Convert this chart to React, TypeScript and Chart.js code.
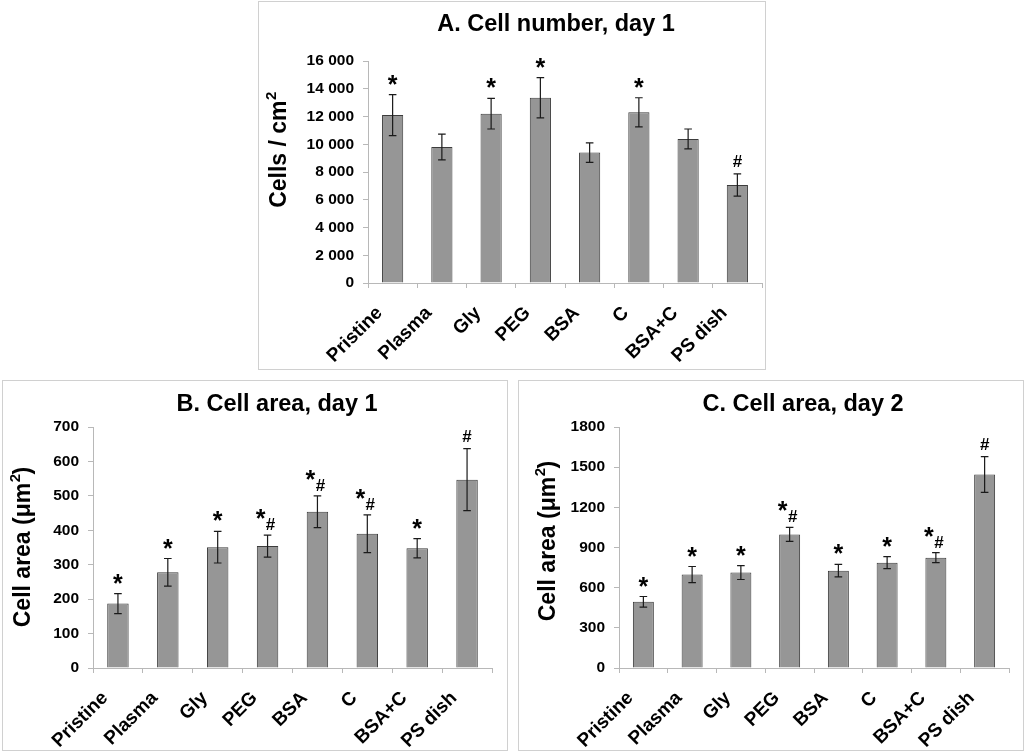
import { useEffect, useRef } from 'react';
import { Chart, registerables } from 'chart.js';

Chart.register(...registerables);

const FONT = '"Liberation Sans", Arial, sans-serif';

const groups = ['Pristine', 'Plasma', 'Gly', 'PEG', 'BSA', 'C', 'BSA+C', 'PS dish'];

// A. cells / cm2, day 1
const cellsDay1 = [12100, 9800, 12200, 13350, 9400, 12300, 10380, 7060];
const cellsDay1Err = [1480, 930, 1100, 1450, 700, 1050, 720, 800];
const cellsDay1Marks = ['*', '', '*', '*', '', '*', '', '#'];

// B. cell area (um2), day 1
const areaDay1 = [187, 278, 351, 354, 454, 390, 348, 547];
const areaDay1Err = [29, 40, 46, 32, 46, 55, 28, 90];
const areaDay1Marks = ['*', '*', '*', '*#', '*#', '*#', '*', '#'];

// C. cell area (um2), day 2
const areaDay2 = [494, 698, 713, 998, 727, 787, 824, 1445];
const areaDay2Err = [40, 60, 52, 52, 47, 45, 37, 134];
const areaDay2Marks = ['*', '*', '*', '*#', '*', '*', '*#', '#'];

type Box = { left: number; top: number; width: number; height: number };
type Area = { left: number; right: number; top: number; bottom: number };

type PanelProps = {
  box: Box;
  area: Area;
  title: string;
  titleX: number;
  titleY: number;
  yTitle: [string, string, string]; // base, superscript, tail
  yTitleX: number;
  yTitleY: number;
  values: number[];
  errors: number[];
  marks: string[];
  yMax: number;
  yStep: number;
  spaced: boolean;
};

const fmt = (v: number, spaced: boolean) =>
  spaced ? String(v).replace(/\B(?=(\d{3})+(?!\d))/g, ' ') : String(v);

const Panel = (p: PanelProps) => {
  const canvasRef = useRef<HTMLCanvasElement | null>(null);
  const chartRef = useRef<Chart | null>(null);
  const w = p.box.width - 2;
  const h = p.box.height - 2;

  useEffect(() => {
    if (!canvasRef.current) return;
    if (chartRef.current) chartRef.current.destroy();

    const drawText = (ctx: CanvasRenderingContext2D, s: string, cx: number, bottom: number, font: string) => {
      ctx.font = font;
      const m = ctx.measureText(s);
      ctx.textAlign = 'center';
      ctx.textBaseline = 'alphabetic';
      ctx.fillText(s, cx, bottom - m.actualBoundingBoxDescent);
    };

    const annotate = {
      id: 'annotate',
      afterDatasetsDraw(chart: Chart) {
        const { ctx } = chart;
        const x = chart.scales.x;
        const y = chart.scales.y;
        ctx.save();
        ctx.strokeStyle = '#1a1a1a';
        ctx.fillStyle = '#000';
        ctx.lineWidth = 1.2;
        p.values.forEach((v, i) => {
          const cx = x.getPixelForValue(i);
          const top = y.getPixelForValue(v + p.errors[i]);
          const bot = y.getPixelForValue(v - p.errors[i]);
          ctx.beginPath();
          ctx.moveTo(cx, top);
          ctx.lineTo(cx, bot);
          ctx.moveTo(cx - 3.8, top);
          ctx.lineTo(cx + 3.8, top);
          ctx.moveTo(cx - 3.8, bot);
          ctx.lineTo(cx + 3.8, bot);
          ctx.stroke();
          const mk = p.marks[i];
          if (mk === '*') drawText(ctx, '*', cx, top - 10, `bold 25px ${FONT}`);
          else if (mk === '#') drawText(ctx, '#', cx, top - 7, `bold 17px ${FONT}`);
          else if (mk === '*#') {
            drawText(ctx, '#', cx + 3, top - 5, `bold 17px ${FONT}`);
            drawText(ctx, '*', cx - 7, top - 16, `bold 25px ${FONT}`);
          }
        });
        ctx.restore();
      },
      afterDraw(chart: Chart) {
        const { ctx } = chart;
        ctx.save();
        ctx.fillStyle = '#000';
        ctx.font = `bold 23.5px ${FONT}`;
        ctx.textAlign = 'center';
        ctx.textBaseline = 'alphabetic';
        ctx.fillText(p.title, p.titleX, p.titleY + 8.4);

        // rotated y-axis title with a raised superscript
        const [base, sup, tail] = p.yTitle;
        const mainFont = `bold 23px ${FONT}`;
        const supFont = `bold 15px ${FONT}`;
        ctx.font = mainFont;
        const wb = ctx.measureText(base).width;
        const wt = ctx.measureText(tail).width;
        ctx.font = supFont;
        const ws = ctx.measureText(sup).width;
        const start = -(wb + ws + wt) / 2;
        ctx.translate(p.yTitleX, p.yTitleY);
        ctx.rotate(-Math.PI / 2);
        ctx.textAlign = 'left';
        ctx.textBaseline = 'middle';
        ctx.font = mainFont;
        ctx.fillText(base, start, 0);
        ctx.fillText(tail, start + wb + ws, 0);
        ctx.font = supFont;
        ctx.fillText(sup, start + wb + 0.5, -8);
        ctx.restore();
      },
    };

    chartRef.current = new Chart(canvasRef.current, {
      type: 'bar',
      data: {
        labels: groups,
        datasets: [
          {
            data: p.values,
            backgroundColor: '#969696',
            borderColor: '#3c3c3c',
            borderWidth: 1,
            categoryPercentage: 1,
            barPercentage: 0.43,
          },
        ],
      },
      options: {
        animation: false,
        responsive: false,
        layout: { padding: { left: 0, top: p.area.top, right: w - p.area.right, bottom: 0 } },
        plugins: { legend: { display: false }, tooltip: { enabled: false }, title: { display: false } },
        scales: {
          x: {
            afterFit: (s: any) => {
              s.height = h - p.area.bottom;
              s.paddingLeft = 0;
              s.paddingRight = 0;
            },
            grid: { drawOnChartArea: false, drawTicks: true, tickLength: 5, color: '#b8b8b8', offset: true },
            border: { color: '#b8b8b8' },
            ticks: {
              color: '#000',
              font: { family: FONT, size: 19, weight: 'bold' },
              minRotation: 45,
              maxRotation: 45,
              autoSkip: false,
              padding: 14,
              labelOffset: -13,
            },
          },
          y: {
            min: 0,
            max: p.yMax,
            afterFit: (s: any) => {
              s.width = p.area.left;
              s.paddingTop = 0;
              s.paddingBottom = 0;
            },
            grid: { drawOnChartArea: false, drawTicks: true, tickLength: 5, color: '#b8b8b8' },
            border: { color: '#b8b8b8' },
            ticks: {
              stepSize: p.yStep,
              color: '#000',
              padding: 9,
              font: { family: FONT, size: 15.5, weight: 'bold' },
              callback: (v: any) => fmt(Number(v), p.spaced),
            },
          },
        },
      },
      plugins: [annotate],
    } as any);

    return () => {
      if (chartRef.current) {
        chartRef.current.destroy();
        chartRef.current = null;
      }
    };
  }, []);

  return (
    <div
      style={{
        position: 'absolute',
        left: p.box.left,
        top: p.box.top,
        width: p.box.width,
        height: p.box.height,
        boxSizing: 'border-box',
        border: '1px solid #d0d0d0',
        background: '#fff',
      }}
    >
      <canvas ref={canvasRef} width={w} height={h} style={{ display: 'block', width: w, height: h }} />
    </div>
  );
};

export default function App() {
  return (
    <div style={{ position: 'absolute', left: 0, top: 0, width: 1024, height: 752, background: '#fff', overflow: 'hidden' }}>
      <Panel
        box={{ left: 258, top: 1, width: 508, height: 369 }}
        area={{ left: 109, right: 503, top: 59, bottom: 281 }}
        title="A. Cell number, day 1"
        titleX={297}
        titleY={20.5}
        yTitle={['Cells / cm', '2', '']}
        yTitleX={21}
        yTitleY={148}
        values={cellsDay1}
        errors={cellsDay1Err}
        marks={cellsDay1Marks}
        yMax={16000}
        yStep={2000}
        spaced={true}
      />
      <Panel
        box={{ left: 2, top: 380, width: 506, height: 371 }}
        area={{ left: 90, right: 489, top: 46, bottom: 287 }}
        title="B. Cell area, day 1"
        titleX={274}
        titleY={21.5}
        yTitle={['Cell area (μm', '2', ')']}
        yTitleX={21}
        yTitleY={166}
        values={areaDay1}
        errors={areaDay1Err}
        marks={areaDay1Marks}
        yMax={700}
        yStep={100}
        spaced={false}
      />
      <Panel
        box={{ left: 518, top: 380, width: 506, height: 371 }}
        area={{ left: 100, right: 490, top: 46, bottom: 287 }}
        title="C. Cell area, day 2"
        titleX={284}
        titleY={21.5}
        yTitle={['Cell area (μm', '2', ')']}
        yTitleX={30}
        yTitleY={160}
        values={areaDay2}
        errors={areaDay2Err}
        marks={areaDay2Marks}
        yMax={1800}
        yStep={300}
        spaced={false}
      />
    </div>
  );
}
